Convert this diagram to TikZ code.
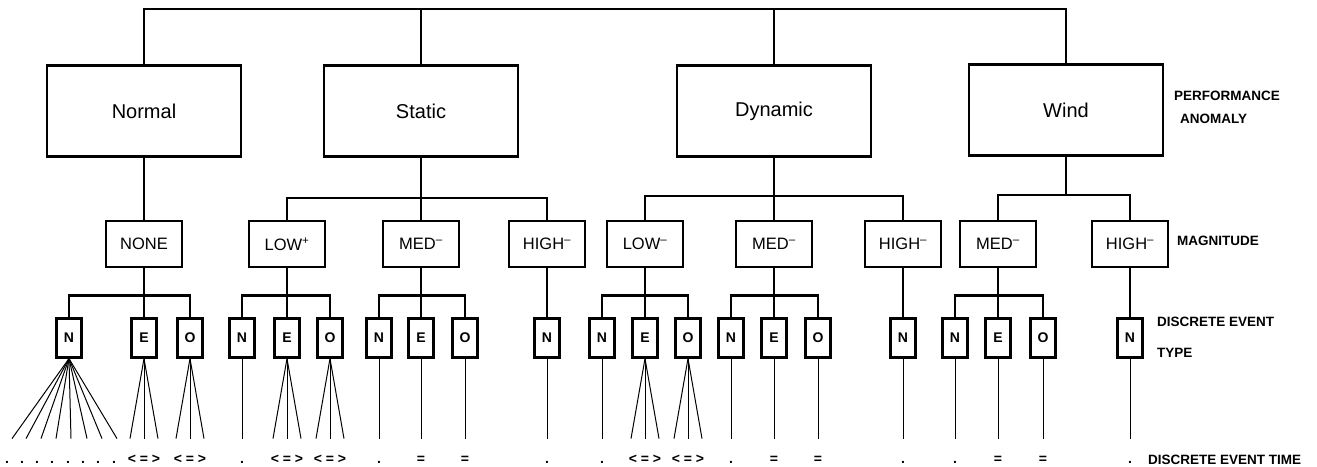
\documentclass[tikz,border=0pt]{standalone}
\usepackage{fontspec}
\setmainfont{Liberation Sans}
\usetikzlibrary{positioning}

\begin{document}
\begin{tikzpicture}[
  x=1pt, y=-1pt,
  tree/.style={draw=black, line width=2.2pt},
  fan/.style={draw=black, line width=1pt},
  anombox/.style={rectangle, draw=black, line width=2.2pt, minimum width=194pt, minimum height=91pt, font=\fontsize{20}{24}\selectfont},
  magbox/.style={rectangle, draw=black, line width=2.2pt, minimum width=76pt, minimum height=46pt, inner sep=0pt, font=\fontsize{16.5}{20}\selectfont},
  typebox/.style={rectangle, draw=black, line width=2.2pt, minimum width=25pt, minimum height=39pt, inner sep=0pt, font=\bfseries\fontsize{14}{16}\selectfont},
  tlbl/.style={anchor=base, inner sep=0pt, font=\bfseries\fontsize{14}{16}\selectfont},
  sidelbl/.style={anchor=base west, inner sep=0pt, font=\bfseries\fontsize{13.5}{16}\selectfont}
]
  \useasboundingbox (0,0) rectangle (1317,466);

  % Performance Anomaly Boxes
  \node[anombox] (normal) at (144,111) {Normal};
  \node[anombox] (static) at (421,111) {Static};
  \node[anombox] (dynamic) at (774,111) {Dynamic};
  \node[anombox] (wind) at (1066,110) {Wind};

  % Root Bar
  \coordinate (topbar) at (0,9);
  \draw[tree] (normal.north) |- (topbar -| wind.north) -- (wind.north);
  \draw[tree] (static.north) -- (static.north |- topbar);
  \draw[tree] (dynamic.north) -- (dynamic.north |- topbar);

  % Magnitude Boxes
  \node[magbox] (none) at (144,244) {NONE};
  \node[magbox] (lows) at (287,244) {LOW\textsuperscript{+}};
  \node[magbox] (meds) at (421,244) {MED\textsuperscript{--}};
  \node[magbox] (highs) at (547,244) {HIGH\textsuperscript{--}};
  \node[magbox] (lowd) at (645,244) {LOW\textsuperscript{--}};
  \node[magbox] (medd) at (774,244) {MED\textsuperscript{--}};
  \node[magbox] (highd) at (903,244) {HIGH\textsuperscript{--}};
  \node[magbox] (medw) at (998,244) {MED\textsuperscript{--}};
  \node[magbox] (highw) at (1130,244) {HIGH\textsuperscript{--}};

  % Anomaly -> Magnitude
  \draw[tree] (normal.south) -- (none.north);
  \draw[tree] (static.south) -- (meds.north);
  \draw[tree] (lows.north) -- ++(0,-22) -| (highs.north);
  \draw[tree] (dynamic.south) -- (medd.north);
  \draw[tree] (lowd.north) -- ++(0,-24) -| (highd.north);
  \draw[tree] (wind.south) -- ++(0,39);
  \draw[tree] (medw.north) -- ++(0,-25) -| (highw.north);

  % ==================== DISCRETE EVENT TYPE ====================

  \node[typebox] (none-N) at (69,338) {N};
  \node[typebox] (none-E) at (144,338) {E};
  \node[typebox] (none-O) at (190,338) {O};
  \node[typebox] (lows-N) at (242,338) {N};
  \node[typebox] (lows-E) at (287,338) {E};
  \node[typebox] (lows-O) at (330,338) {O};
  \node[typebox] (meds-N) at (379,338) {N};
  \node[typebox] (meds-E) at (421,338) {E};
  \node[typebox] (meds-O) at (465,338) {O};
  \node[typebox] (highs-N) at (547,338) {N};
  \node[typebox] (lowd-N) at (602,338) {N};
  \node[typebox] (lowd-E) at (645,338) {E};
  \node[typebox] (lowd-O) at (688,338) {O};
  \node[typebox] (medd-N) at (731,338) {N};
  \node[typebox] (medd-E) at (774,338) {E};
  \node[typebox] (medd-O) at (818,338) {O};
  \node[typebox] (highd-N) at (903,338) {N};
  \node[typebox] (medw-N) at (955,338) {N};
  \node[typebox] (medw-E) at (998,338) {E};
  \node[typebox] (medw-O) at (1043,338) {O};
  \node[typebox] (highw-N) at (1130,338) {N};

  % Magnitude -> Event Type
  \foreach \g in {none,lows,meds,lowd,medd,medw} {
    \draw[tree] (\g.south) -- (\g-E.north);
    \draw[tree] (\g-N.north) -- ++(0,-22) -| (\g-O.north);
  }
  \foreach \g in {highs,highd,highw}
    \draw[tree] (\g.south) -- (\g-N.north);

  % ==================== DISCRETE EVENT TIME ====================

  % Single leaves
  \foreach \n in {lows-N,meds-N,meds-E,meds-O,highs-N,lowd-N,medd-N,medd-E,medd-O,highd-N,medw-N,medw-E,medw-O,highw-N}
    \draw[fan] (\n.south) -- ++(0,80);

  % Fans
  \foreach \dx in {-57,-43,-28,-13,2,18,33,48}
    \draw[fan] (none-N.south) -- ++(\dx,80);
  \foreach \n in {none-E,none-O,lows-E,lows-O,lowd-E,lowd-O}
    \foreach \dx in {-14,0,14}
      \draw[fan] (\n.south) -- ++(\dx,80);

  % Time marks
  \foreach \x [count=\i] in {7,22,37,52,68,83,98,114}
    \node[tlbl] (dot\i) at (\x,463) {.};
  \foreach \n in {lows-N,meds-N,highs-N,lowd-N,medd-N,highd-N,medw-N,highw-N}
    \node[tlbl] (\n-t) at (\n |- 0,463) {.};
  \foreach \n in {meds-E,meds-O,medd-E,medd-O,medw-E,medw-O}
    \node[tlbl] (\n-t) at (\n |- 0,463) {=};
  \foreach \n in {none-E,none-O,lows-E,lows-O,lowd-E,lowd-O}
    \node[tlbl] (\n-t) at (\n |- 0,463) {< = >};

  % Level Labels
  \node[sidelbl] (perf) at (1174,100) {PERFORMANCE};
  \node[sidelbl] (anom) at (1180,123) {ANOMALY};
  \node[sidelbl] (magn) at (1177,245) {MAGNITUDE};
  \node[sidelbl] (detype) at (1157,326) {DISCRETE EVENT};
  \node[sidelbl] (detype2) at (1157,357) {TYPE};
  \node[sidelbl] (detime) at (1148,464) {DISCRETE EVENT TIME};

\end{tikzpicture}
\end{document}
